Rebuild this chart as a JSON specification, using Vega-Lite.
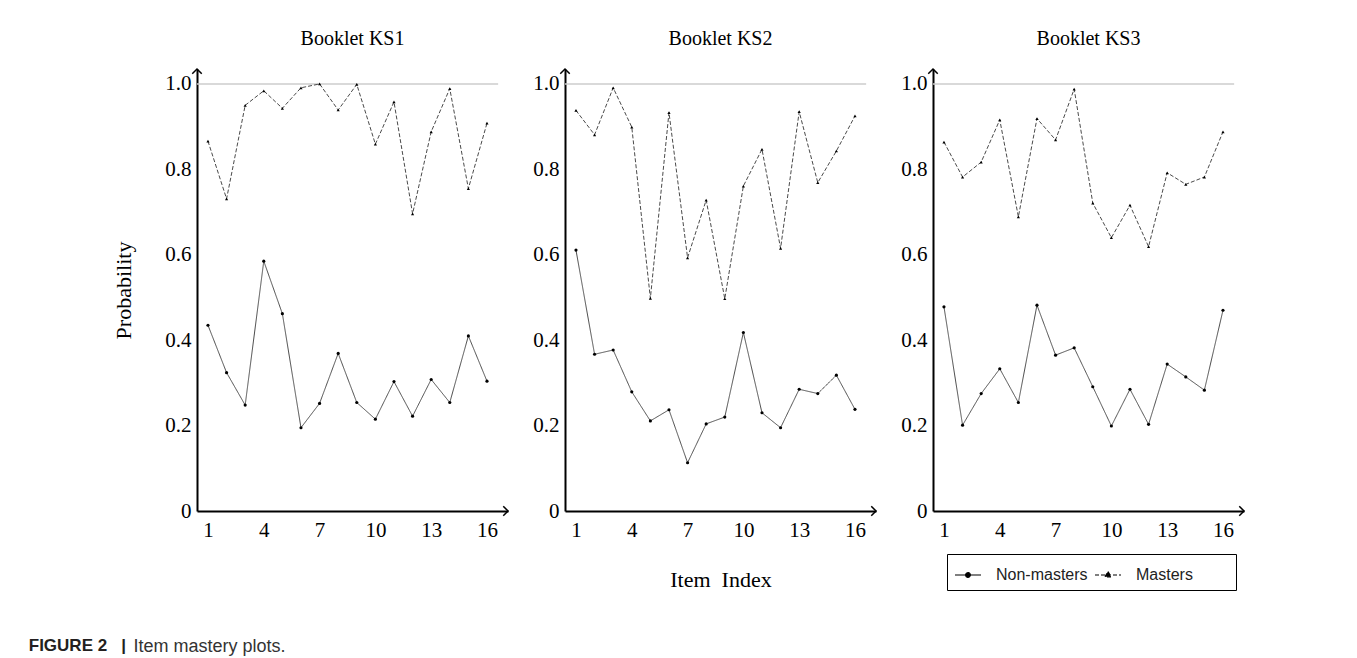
{
  "$schema": "https://vega.github.io/schema/vega-lite/v6.json",
  "padding": {"left": 28, "top": 29, "right": 5, "bottom": 3},
  "background": "white",
  "data": {"values": [
    {"booklet":"KS1","item":1,"group":"Masters","p":0.866},{"booklet":"KS1","item":2,"group":"Masters","p":0.731},{"booklet":"KS1","item":3,"group":"Masters","p":0.950},{"booklet":"KS1","item":4,"group":"Masters","p":0.984},{"booklet":"KS1","item":5,"group":"Masters","p":0.943},{"booklet":"KS1","item":6,"group":"Masters","p":0.991},{"booklet":"KS1","item":7,"group":"Masters","p":1.000},{"booklet":"KS1","item":8,"group":"Masters","p":0.939},{"booklet":"KS1","item":9,"group":"Masters","p":0.999},{"booklet":"KS1","item":10,"group":"Masters","p":0.859},{"booklet":"KS1","item":11,"group":"Masters","p":0.958},{"booklet":"KS1","item":12,"group":"Masters","p":0.696},{"booklet":"KS1","item":13,"group":"Masters","p":0.888},{"booklet":"KS1","item":14,"group":"Masters","p":0.989},{"booklet":"KS1","item":15,"group":"Masters","p":0.755},{"booklet":"KS1","item":16,"group":"Masters","p":0.908},
    {"booklet":"KS1","item":1,"group":"Non-masters","p":0.435},{"booklet":"KS1","item":2,"group":"Non-masters","p":0.324},{"booklet":"KS1","item":3,"group":"Non-masters","p":0.248},{"booklet":"KS1","item":4,"group":"Non-masters","p":0.585},{"booklet":"KS1","item":5,"group":"Non-masters","p":0.462},{"booklet":"KS1","item":6,"group":"Non-masters","p":0.195},{"booklet":"KS1","item":7,"group":"Non-masters","p":0.252},{"booklet":"KS1","item":8,"group":"Non-masters","p":0.369},{"booklet":"KS1","item":9,"group":"Non-masters","p":0.254},{"booklet":"KS1","item":10,"group":"Non-masters","p":0.215},{"booklet":"KS1","item":11,"group":"Non-masters","p":0.303},{"booklet":"KS1","item":12,"group":"Non-masters","p":0.222},{"booklet":"KS1","item":13,"group":"Non-masters","p":0.308},{"booklet":"KS1","item":14,"group":"Non-masters","p":0.254},{"booklet":"KS1","item":15,"group":"Non-masters","p":0.410},{"booklet":"KS1","item":16,"group":"Non-masters","p":0.304},
    {"booklet":"KS2","item":1,"group":"Masters","p":0.938},{"booklet":"KS2","item":2,"group":"Masters","p":0.881},{"booklet":"KS2","item":3,"group":"Masters","p":0.991},{"booklet":"KS2","item":4,"group":"Masters","p":0.899},{"booklet":"KS2","item":5,"group":"Masters","p":0.498},{"booklet":"KS2","item":6,"group":"Masters","p":0.933},{"booklet":"KS2","item":7,"group":"Masters","p":0.593},{"booklet":"KS2","item":8,"group":"Masters","p":0.728},{"booklet":"KS2","item":9,"group":"Masters","p":0.497},{"booklet":"KS2","item":10,"group":"Masters","p":0.761},{"booklet":"KS2","item":11,"group":"Masters","p":0.847},{"booklet":"KS2","item":12,"group":"Masters","p":0.615},{"booklet":"KS2","item":13,"group":"Masters","p":0.935},{"booklet":"KS2","item":14,"group":"Masters","p":0.769},{"booklet":"KS2","item":15,"group":"Masters","p":0.843},{"booklet":"KS2","item":16,"group":"Masters","p":0.925},
    {"booklet":"KS2","item":1,"group":"Non-masters","p":0.611},{"booklet":"KS2","item":2,"group":"Non-masters","p":0.367},{"booklet":"KS2","item":3,"group":"Non-masters","p":0.377},{"booklet":"KS2","item":4,"group":"Non-masters","p":0.279},{"booklet":"KS2","item":5,"group":"Non-masters","p":0.211},{"booklet":"KS2","item":6,"group":"Non-masters","p":0.237},{"booklet":"KS2","item":7,"group":"Non-masters","p":0.113},{"booklet":"KS2","item":8,"group":"Non-masters","p":0.204},{"booklet":"KS2","item":9,"group":"Non-masters","p":0.220},{"booklet":"KS2","item":10,"group":"Non-masters","p":0.418},{"booklet":"KS2","item":11,"group":"Non-masters","p":0.230},{"booklet":"KS2","item":12,"group":"Non-masters","p":0.195},{"booklet":"KS2","item":13,"group":"Non-masters","p":0.285},{"booklet":"KS2","item":14,"group":"Non-masters","p":0.275},{"booklet":"KS2","item":15,"group":"Non-masters","p":0.318},{"booklet":"KS2","item":16,"group":"Non-masters","p":0.238},
    {"booklet":"KS3","item":1,"group":"Masters","p":0.864},{"booklet":"KS3","item":2,"group":"Masters","p":0.782},{"booklet":"KS3","item":3,"group":"Masters","p":0.817},{"booklet":"KS3","item":4,"group":"Masters","p":0.916},{"booklet":"KS3","item":5,"group":"Masters","p":0.689},{"booklet":"KS3","item":6,"group":"Masters","p":0.919},{"booklet":"KS3","item":7,"group":"Masters","p":0.869},{"booklet":"KS3","item":8,"group":"Masters","p":0.988},{"booklet":"KS3","item":9,"group":"Masters","p":0.721},{"booklet":"KS3","item":10,"group":"Masters","p":0.640},{"booklet":"KS3","item":11,"group":"Masters","p":0.716},{"booklet":"KS3","item":12,"group":"Masters","p":0.619},{"booklet":"KS3","item":13,"group":"Masters","p":0.792},{"booklet":"KS3","item":14,"group":"Masters","p":0.765},{"booklet":"KS3","item":15,"group":"Masters","p":0.782},{"booklet":"KS3","item":16,"group":"Masters","p":0.888},
    {"booklet":"KS3","item":1,"group":"Non-masters","p":0.478},{"booklet":"KS3","item":2,"group":"Non-masters","p":0.201},{"booklet":"KS3","item":3,"group":"Non-masters","p":0.275},{"booklet":"KS3","item":4,"group":"Non-masters","p":0.333},{"booklet":"KS3","item":5,"group":"Non-masters","p":0.254},{"booklet":"KS3","item":6,"group":"Non-masters","p":0.482},{"booklet":"KS3","item":7,"group":"Non-masters","p":0.365},{"booklet":"KS3","item":8,"group":"Non-masters","p":0.382},{"booklet":"KS3","item":9,"group":"Non-masters","p":0.291},{"booklet":"KS3","item":10,"group":"Non-masters","p":0.199},{"booklet":"KS3","item":11,"group":"Non-masters","p":0.285},{"booklet":"KS3","item":12,"group":"Non-masters","p":0.203},{"booklet":"KS3","item":13,"group":"Non-masters","p":0.344},{"booklet":"KS3","item":14,"group":"Non-masters","p":0.314},{"booklet":"KS3","item":15,"group":"Non-masters","p":0.283},{"booklet":"KS3","item":16,"group":"Non-masters","p":0.470}
  ]},
  "spacing": 57,
  "bounds": "flush",
  "title": {
    "text": "FIGURE 2\u00a0\u00a0 |",
    "orient": "bottom", "anchor": "start", "baseline": "alphabetic",
    "font": "Liberation Sans", "fontSize": 17, "fontWeight": "bold", "color": "#231f20",
    "offset": -4, "dx": -84
  },
  "hconcat": [
    {
      "width": 311, "height": 442,
      "title": {"text": "Booklet KS1"},
      "layer": [
        {"data": {"values": [{"level": 1}]}, "mark": {"type": "rule", "color": "#cccccc", "strokeWidth": 1.5},
         "encoding": {"x": {"datum": 0.41, "type": "quantitative", "scale": {"domain": [0.41, 17.13], "nice": false, "zero": false}, "axis": {"values": [1,4,7,10,13,16], "title": "Item mastery plots.", "titleX": -64, "titleY": 140, "titleAlign": "left", "titleAnchor": "start", "titleBaseline": "alphabetic", "titleFont": "Liberation Sans", "titleFontSize": 18, "titleColor": "#333333", "titleFontWeight": "normal", "titlePadding": 0}}, "x2": {"datum": 16.6}, "y": {"field": "level", "type": "quantitative", "scale": {"domain": [0, 1.035], "nice": false}, "axis": {"values": [0,0.2,0.4,0.6,0.8,1], "title": "Probability"}}}},
        {"transform": [{"filter": "datum.booklet === 'KS1'"}], "mark": {"type": "line", "color": "#4a4a4a", "strokeWidth": 1},
         "encoding": {
           "x": {"field": "item", "type": "quantitative", "scale": {"domain": [0.41, 17.13], "nice": false, "zero": false}, "axis": {"values": [1,4,7,10,13,16], "title": "Item mastery plots.", "titleX": -64, "titleY": 140, "titleAlign": "left", "titleAnchor": "start", "titleBaseline": "alphabetic", "titleFont": "Liberation Sans", "titleFontSize": 18, "titleColor": "#333333", "titleFontWeight": "normal", "titlePadding": 0}},
           "y": {"field": "p", "type": "quantitative", "scale": {"domain": [0, 1.035], "nice": false}, "axis": {"values": [0,0.2,0.4,0.6,0.8,1], "title": "Probability"}},
           "strokeDash": {"field": "group", "type": "nominal", "scale": {"domain": ["Non-masters", "Masters"], "range": [[1,0],[4,2]]},
             "legend": {"orient": "none", "legendX": 750, "legendY": 485, "direction": "horizontal", "title": null,
               "strokeColor": "black", "padding": 7, "labelFont": "Liberation Sans", "labelFontSize": 16, "labelColor": "#222222",
               "symbolSize": 676, "labelOffset": 14, "columnPadding": 4, "symbolStrokeWidth": 1.2, "symbolStrokeColor": "black",
               "labelExpr": "datum.label === 'Masters' ? 'Masters\u00a0\u00a0\u00a0\u00a0\u00a0\u00a0\u00a0\u00a0\u200b' : datum.label",
               "encode": {"symbols": {"update": {
                 "shape": {"signal": "datum.value === 'Masters' ? 'M-1,0H1M0,-0.26L0.23,0.14L-0.23,0.14Z' : 'M-1,0H1M-0.18,0A0.18,0.18,0,1,1,0.18,0A0.18,0.18,0,1,1,-0.18,0Z'"},
                 "fill": {"value": "black"}, "stroke": {"value": "black"}}}}}}
         }},
        {"transform": [{"filter": "datum.booklet === 'KS1' && datum.group === 'Non-masters'"}], "mark": {"type": "point", "shape": "circle", "filled": true, "size": 10, "color": "black", "opacity": 1},
         "encoding": {"x": {"field": "item", "type": "quantitative", "scale": {"domain": [0.41, 17.13], "nice": false, "zero": false}, "axis": {"values": [1,4,7,10,13,16], "title": "Item mastery plots.", "titleX": -64, "titleY": 140, "titleAlign": "left", "titleAnchor": "start", "titleBaseline": "alphabetic", "titleFont": "Liberation Sans", "titleFontSize": 18, "titleColor": "#333333", "titleFontWeight": "normal", "titlePadding": 0}}, "y": {"field": "p", "type": "quantitative", "scale": {"domain": [0, 1.035], "nice": false}, "axis": {"values": [0,0.2,0.4,0.6,0.8,1], "title": "Probability"}}}},
        {"transform": [{"filter": "datum.booklet === 'KS1' && datum.group === 'Masters'"}], "mark": {"type": "point", "shape": "triangle-up", "filled": true, "size": 10, "color": "black", "opacity": 1},
         "encoding": {"x": {"field": "item", "type": "quantitative", "scale": {"domain": [0.41, 17.13], "nice": false, "zero": false}, "axis": {"values": [1,4,7,10,13,16], "title": "Item mastery plots.", "titleX": -64, "titleY": 140, "titleAlign": "left", "titleAnchor": "start", "titleBaseline": "alphabetic", "titleFont": "Liberation Sans", "titleFontSize": 18, "titleColor": "#333333", "titleFontWeight": "normal", "titlePadding": 0}}, "y": {"field": "p", "type": "quantitative", "scale": {"domain": [0, 1.035], "nice": false}, "axis": {"values": [0,0.2,0.4,0.6,0.8,1], "title": "Probability"}}}},
        {"data": {"values": [{"end": "y"}]}, "mark": {"type": "point", "shape": "M-1,1L0,0L1,1", "filled": false, "size": 90, "stroke": "black", "strokeWidth": 1.5, "opacity": 1},
         "encoding": {"x": {"datum": 0.41, "type": "quantitative", "scale": {"domain": [0.41, 17.13], "nice": false, "zero": false}, "axis": {"values": [1,4,7,10,13,16], "title": "Item mastery plots.", "titleX": -64, "titleY": 140, "titleAlign": "left", "titleAnchor": "start", "titleBaseline": "alphabetic", "titleFont": "Liberation Sans", "titleFontSize": 18, "titleColor": "#333333", "titleFontWeight": "normal", "titlePadding": 0}}, "y": {"datum": 1.035, "type": "quantitative", "scale": {"domain": [0, 1.035], "nice": false}, "axis": {"values": [0,0.2,0.4,0.6,0.8,1], "title": "Probability"}}}},
        {"data": {"values": [{"end": "x"}]}, "mark": {"type": "point", "shape": "M-1,-1L0,0L-1,1", "filled": false, "size": 90, "stroke": "black", "strokeWidth": 1.5, "opacity": 1},
         "encoding": {"x": {"datum": 17.13, "type": "quantitative", "scale": {"domain": [0.41, 17.13], "nice": false, "zero": false}, "axis": {"values": [1,4,7,10,13,16], "title": "Item mastery plots.", "titleX": -64, "titleY": 140, "titleAlign": "left", "titleAnchor": "start", "titleBaseline": "alphabetic", "titleFont": "Liberation Sans", "titleFontSize": 18, "titleColor": "#333333", "titleFontWeight": "normal", "titlePadding": 0}}, "y": {"datum": 0, "type": "quantitative", "scale": {"domain": [0, 1.035], "nice": false}, "axis": {"values": [0,0.2,0.4,0.6,0.8,1], "title": "Probability"}}}}
      ]
    },
    {
      "width": 311, "height": 442,
      "title": {"text": "Booklet KS2"},
      "layer": [
        {"data": {"values": [{"level": 1}]}, "mark": {"type": "rule", "color": "#cccccc", "strokeWidth": 1.5},
         "encoding": {"x": {"datum": 0.41, "type": "quantitative", "scale": {"domain": [0.41, 17.13], "nice": false, "zero": false}, "axis": {"values": [1,4,7,10,13,16], "title": "Item\u00a0 Index"}}, "x2": {"datum": 16.6}, "y": {"field": "level", "type": "quantitative", "scale": {"domain": [0, 1.035], "nice": false}, "axis": {"values": [0,0.2,0.4,0.6,0.8,1], "title": null}}}},
        {"transform": [{"filter": "datum.booklet === 'KS2'"}], "mark": {"type": "line", "color": "#4a4a4a", "strokeWidth": 1},
         "encoding": {
           "x": {"field": "item", "type": "quantitative", "scale": {"domain": [0.41, 17.13], "nice": false, "zero": false}, "axis": {"values": [1,4,7,10,13,16], "title": "Item\u00a0 Index"}},
           "y": {"field": "p", "type": "quantitative", "scale": {"domain": [0, 1.035], "nice": false}, "axis": {"values": [0,0.2,0.4,0.6,0.8,1], "title": null}},
           "strokeDash": {"field": "group", "type": "nominal", "scale": {"domain": ["Non-masters", "Masters"], "range": [[1,0],[4,2]]}, "legend": null}
         }},
        {"transform": [{"filter": "datum.booklet === 'KS2' && datum.group === 'Non-masters'"}], "mark": {"type": "point", "shape": "circle", "filled": true, "size": 10, "color": "black", "opacity": 1},
         "encoding": {"x": {"field": "item", "type": "quantitative", "scale": {"domain": [0.41, 17.13], "nice": false, "zero": false}, "axis": {"values": [1,4,7,10,13,16], "title": "Item\u00a0 Index"}}, "y": {"field": "p", "type": "quantitative", "scale": {"domain": [0, 1.035], "nice": false}, "axis": {"values": [0,0.2,0.4,0.6,0.8,1], "title": null}}}},
        {"transform": [{"filter": "datum.booklet === 'KS2' && datum.group === 'Masters'"}], "mark": {"type": "point", "shape": "triangle-up", "filled": true, "size": 10, "color": "black", "opacity": 1},
         "encoding": {"x": {"field": "item", "type": "quantitative", "scale": {"domain": [0.41, 17.13], "nice": false, "zero": false}, "axis": {"values": [1,4,7,10,13,16], "title": "Item\u00a0 Index"}}, "y": {"field": "p", "type": "quantitative", "scale": {"domain": [0, 1.035], "nice": false}, "axis": {"values": [0,0.2,0.4,0.6,0.8,1], "title": null}}}},
        {"data": {"values": [{"end": "y"}]}, "mark": {"type": "point", "shape": "M-1,1L0,0L1,1", "filled": false, "size": 90, "stroke": "black", "strokeWidth": 1.5, "opacity": 1},
         "encoding": {"x": {"datum": 0.41, "type": "quantitative", "scale": {"domain": [0.41, 17.13], "nice": false, "zero": false}, "axis": {"values": [1,4,7,10,13,16], "title": "Item\u00a0 Index"}}, "y": {"datum": 1.035, "type": "quantitative", "scale": {"domain": [0, 1.035], "nice": false}, "axis": {"values": [0,0.2,0.4,0.6,0.8,1], "title": null}}}},
        {"data": {"values": [{"end": "x"}]}, "mark": {"type": "point", "shape": "M-1,-1L0,0L-1,1", "filled": false, "size": 90, "stroke": "black", "strokeWidth": 1.5, "opacity": 1},
         "encoding": {"x": {"datum": 17.13, "type": "quantitative", "scale": {"domain": [0.41, 17.13], "nice": false, "zero": false}, "axis": {"values": [1,4,7,10,13,16], "title": "Item\u00a0 Index"}}, "y": {"datum": 0, "type": "quantitative", "scale": {"domain": [0, 1.035], "nice": false}, "axis": {"values": [0,0.2,0.4,0.6,0.8,1], "title": null}}}}
      ]
    },
    {
      "width": 311, "height": 442,
      "title": {"text": "Booklet KS3"},
      "layer": [
        {"data": {"values": [{"level": 1}]}, "mark": {"type": "rule", "color": "#cccccc", "strokeWidth": 1.5},
         "encoding": {"x": {"datum": 0.41, "type": "quantitative", "scale": {"domain": [0.41, 17.13], "nice": false, "zero": false}, "axis": {"values": [1,4,7,10,13,16], "title": null}}, "x2": {"datum": 16.6}, "y": {"field": "level", "type": "quantitative", "scale": {"domain": [0, 1.035], "nice": false}, "axis": {"values": [0,0.2,0.4,0.6,0.8,1], "title": null}}}},
        {"transform": [{"filter": "datum.booklet === 'KS3'"}], "mark": {"type": "line", "color": "#4a4a4a", "strokeWidth": 1},
         "encoding": {
           "x": {"field": "item", "type": "quantitative", "scale": {"domain": [0.41, 17.13], "nice": false, "zero": false}, "axis": {"values": [1,4,7,10,13,16], "title": null}},
           "y": {"field": "p", "type": "quantitative", "scale": {"domain": [0, 1.035], "nice": false}, "axis": {"values": [0,0.2,0.4,0.6,0.8,1], "title": null}},
           "strokeDash": {"field": "group", "type": "nominal", "scale": {"domain": ["Non-masters", "Masters"], "range": [[1,0],[4,2]]}, "legend": null}
         }},
        {"transform": [{"filter": "datum.booklet === 'KS3' && datum.group === 'Non-masters'"}], "mark": {"type": "point", "shape": "circle", "filled": true, "size": 10, "color": "black", "opacity": 1},
         "encoding": {"x": {"field": "item", "type": "quantitative", "scale": {"domain": [0.41, 17.13], "nice": false, "zero": false}, "axis": {"values": [1,4,7,10,13,16], "title": null}}, "y": {"field": "p", "type": "quantitative", "scale": {"domain": [0, 1.035], "nice": false}, "axis": {"values": [0,0.2,0.4,0.6,0.8,1], "title": null}}}},
        {"transform": [{"filter": "datum.booklet === 'KS3' && datum.group === 'Masters'"}], "mark": {"type": "point", "shape": "triangle-up", "filled": true, "size": 10, "color": "black", "opacity": 1},
         "encoding": {"x": {"field": "item", "type": "quantitative", "scale": {"domain": [0.41, 17.13], "nice": false, "zero": false}, "axis": {"values": [1,4,7,10,13,16], "title": null}}, "y": {"field": "p", "type": "quantitative", "scale": {"domain": [0, 1.035], "nice": false}, "axis": {"values": [0,0.2,0.4,0.6,0.8,1], "title": null}}}},
        {"data": {"values": [{"end": "y"}]}, "mark": {"type": "point", "shape": "M-1,1L0,0L1,1", "filled": false, "size": 90, "stroke": "black", "strokeWidth": 1.5, "opacity": 1},
         "encoding": {"x": {"datum": 0.41, "type": "quantitative", "scale": {"domain": [0.41, 17.13], "nice": false, "zero": false}, "axis": {"values": [1,4,7,10,13,16], "title": null}}, "y": {"datum": 1.035, "type": "quantitative", "scale": {"domain": [0, 1.035], "nice": false}, "axis": {"values": [0,0.2,0.4,0.6,0.8,1], "title": null}}}},
        {"data": {"values": [{"end": "x"}]}, "mark": {"type": "point", "shape": "M-1,-1L0,0L-1,1", "filled": false, "size": 90, "stroke": "black", "strokeWidth": 1.5, "opacity": 1},
         "encoding": {"x": {"datum": 17.13, "type": "quantitative", "scale": {"domain": [0.41, 17.13], "nice": false, "zero": false}, "axis": {"values": [1,4,7,10,13,16], "title": null}}, "y": {"datum": 0, "type": "quantitative", "scale": {"domain": [0, 1.035], "nice": false}, "axis": {"values": [0,0.2,0.4,0.6,0.8,1], "title": null}}}}
      ]
    }
  ],
  "resolve": {"scale": {"strokeDash": "shared"}},
  "config": {
    "view": {"stroke": null},
    "font": "Liberation Serif",
    "title": {"font": "Liberation Serif", "fontSize": 20, "fontWeight": "normal", "color": "black", "offset": 17, "anchor": "middle"},
    "axis": {
      "domainColor": "black", "domainWidth": 2, "ticks": false, "tickSize": 0, "grid": false,
      "labelFont": "Liberation Serif", "labelFontSize": 21, "labelColor": "black", "labelPadding": 8,
      "labelOverlap": false, "labelFlush": false,
      "titleFont": "Liberation Serif", "titleFontSize": 22, "titleFontWeight": "normal", "titleColor": "black"
    },
    "axisY": {"labelExpr": "datum.value === 0 ? '0' : format(datum.value, '.1f')", "labelPadding": 6, "titlePadding": 29},
    "axisX": {"titlePadding": 29}
  }
}
